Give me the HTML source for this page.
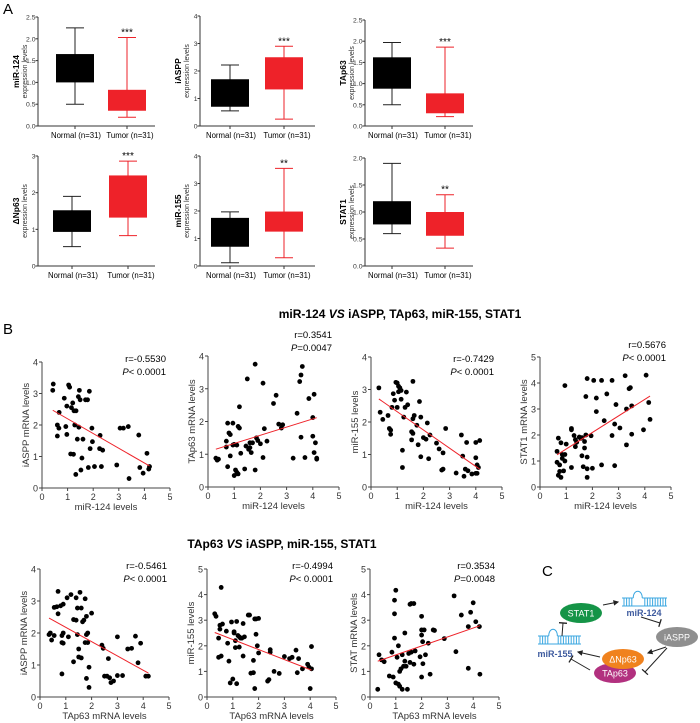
<!DOCTYPE html>
<html><head><meta charset="utf-8">
<style>
html,body{margin:0;padding:0;background:#fff;}
svg{display:block;font-family:"Liberation Sans",Arial,sans-serif;}
</style></head>
<body>
<svg id="fig" width="700" height="723" viewBox="0 0 700 723" xmlns="http://www.w3.org/2000/svg">
<text x="3" y="14" font-size="15">A</text>
<text x="3" y="334" font-size="15">B</text>
<text x="542" y="576" font-size="15">C</text>
<text x="400" y="318" font-size="12" font-weight="bold" text-anchor="middle">miR-124 <tspan font-style="italic">VS</tspan> iASPP, TAp63, miR-155, STAT1</text>
<text x="282" y="548" font-size="12" font-weight="bold" text-anchor="middle">TAp63 <tspan font-style="italic">VS</tspan> iASPP, miR-155, STAT1</text>
<g id="boxes"></g>
<g id="scatters"></g>
<g id="diagram"></g>
</svg>
<script>
// ---- Box plot data: [whiskerMin, q1, q3, whiskerMax] ----
const boxGenes = ["miR-124","iASPP","TAp63","ΔNp63","miR-155","STAT1"];
const boxYMax = [2.5, 4, 2.5, 3, 4, 2.0];
const boxYStep = [0.5, 1, 0.5, 1, 1, 0.5];
const boxDecimals = [1,0,1,0,0,1];
const normalStats = [[0.5,1.0,1.65,2.25],[0.55,0.7,1.7,2.22],[0.5,0.88,1.62,1.97],[0.53,0.93,1.52,1.9],[0.12,0.7,1.75,1.97],[0.6,0.77,1.2,1.9]];
const tumorStats = [[0.2,0.35,0.83,2.03],[0.25,1.33,2.5,2.9],[0.22,0.3,0.77,1.86],[0.83,1.32,2.47,2.86],[0.3,1.25,1.98,3.55],[0.33,0.56,1.0,1.32]];
const boxStars = ["***","***","***","***","**","**"];
const boxCategories = ["Normal (n=31)","Tumor (n=31)"];

// ---- Scatter data ----
const b1x=[0.42,0.44,0.6,0.6,0.66,0.67,0.87,0.93,0.97,0.97,1.04,1.08,1.12,1.15,1.2,1.23,1.25,1.28,1.32,1.33,1.38,1.42,1.44,1.46,1.49,1.52,1.56,1.6,1.7,1.78,1.85,1.81,1.88,1.95,1.97,2.05,2.25,2.27,2.32,2.37,2.92,3.05,3.18,3.37,3.4,3.78,3.82,3.95,4.1,4.17,4.2];
const b1y=[3.1,3.3,2.0,1.65,1.9,2.4,2.85,1.95,1.7,2.6,3.27,3.2,1.08,2.55,2.7,1.07,2.45,2.0,0.43,2.45,1.55,2.9,1.93,3.1,2.8,0.57,0.95,1.55,2.8,2.8,3.07,0.65,1.25,1.9,1.47,0.68,1.25,1.67,0.68,1.2,0.73,1.9,1.9,1.95,0.3,1.68,0.65,0.47,1.1,0.6,0.68];
const b2x=[0.3,0.35,0.4,0.7,0.7,0.75,0.75,0.8,0.85,0.85,0.95,0.95,1.0,1.0,1.05,1.1,1.1,1.15,1.15,1.2,1.2,1.25,1.4,1.45,1.5,1.55,1.6,1.6,1.65,1.7,1.8,1.8,1.85,1.9,2.0,2.1,2.1,2.15,2.25,2.5,2.6,2.7,2.8,2.85,3.25,3.4,3.5,3.55,3.6,3.55,3.7,3.85,4.0,4.0,4.05,4.05,4.1,4.15,4.15];
const b2y=[0.88,0.82,0.85,1.4,1.22,1.95,0.62,1.65,1.6,0.95,1.95,1.28,0.35,1.3,0.52,0.45,1.28,0.4,1.85,2.45,1.8,1.03,0.55,1.25,3.3,1.15,1.35,1.2,1.05,1.35,3.75,0.52,1.5,1.42,1.32,3.17,0.9,1.78,1.4,2.55,2.8,1.92,1.8,1.9,0.88,2.25,3.22,3.42,3.68,1.52,0.9,2.7,2.12,1.55,2.83,1.05,1.35,0.88,0.85];
const b3x=[0.3,0.35,0.45,0.65,0.7,0.75,0.75,0.8,0.85,0.9,0.95,1.0,1.0,1.05,1.05,1.1,1.15,1.15,1.2,1.2,1.25,1.3,1.35,1.4,1.55,1.55,1.6,1.6,1.6,1.65,1.75,1.8,1.85,1.9,1.9,2.0,2.1,2.15,2.2,2.25,2.5,2.6,2.7,2.75,2.75,2.85,3.25,3.45,3.5,3.55,3.6,3.65,3.7,3.85,4.0,4.0,4.0,4.05,4.05,4.1,4.15];
const b3y=[3.05,2.3,2.08,2.2,1.8,1.75,1.62,2.45,2.87,2.67,3.22,2.45,3.2,3.1,2.93,3.05,2.97,2.7,1.13,0.6,2.15,2.45,2.92,2.53,1.45,1.7,1.65,3.25,2.1,2.2,1.9,1.3,2.63,0.93,2.15,1.52,1.47,1.97,0.87,1.6,1.35,1.17,0.52,1.05,0.55,1.8,0.43,1.6,0.95,0.33,0.55,1.37,0.5,0.4,0.42,0.9,1.37,0.42,0.68,0.6,1.43];
const b4x=[0.65,0.65,0.7,0.7,0.75,0.75,0.8,0.8,0.85,0.85,0.9,0.95,0.95,0.95,1.0,1.2,1.2,1.2,1.3,1.35,1.35,1.4,1.5,1.55,1.6,1.6,1.65,1.7,1.7,1.75,1.8,1.8,1.8,1.8,1.75,1.95,2.0,2.05,2.15,2.15,2.35,2.35,2.45,2.55,2.75,2.75,2.85,2.85,2.9,3.05,3.25,3.3,3.3,3.4,3.45,3.5,3.5,3.95,4.05,4.15,4.2];
const b4y=[1.37,0.95,0.45,1.88,0.85,0.6,0.37,1.7,1.1,1.25,0.62,1.0,3.9,1.25,1.65,2.25,2.2,0.75,1.98,1.55,1.82,1.72,1.92,1.87,1.9,1.2,0.78,1.75,1.5,2.0,0.7,0.37,1.15,4.17,3.48,1.97,0.72,4.1,2.9,3.42,4.1,0.85,2.55,3.58,1.98,4.1,0.82,2.42,3.17,2.27,4.28,1.62,3.0,3.78,3.82,3.12,2.03,2.2,4.3,3.25,2.6];
const c1x=[0.35,0.4,0.45,0.55,0.55,0.65,0.7,0.7,0.8,0.85,0.85,0.85,0.9,0.9,0.9,1.05,1.1,1.2,1.3,1.3,1.4,1.4,1.45,1.45,1.5,1.5,1.55,1.6,1.6,1.65,1.7,1.75,1.75,1.8,1.8,1.8,1.85,1.85,1.9,1.9,2.0,2.4,2.45,2.5,2.6,2.65,2.7,2.75,2.85,3.0,3.0,3.2,3.4,3.55,3.7,3.8,3.9,4.1,4.2];
const c1y=[1.95,2.0,1.78,1.92,2.8,2.82,3.3,2.6,2.85,0.72,1.92,1.7,2.9,1.68,2.0,3.1,1.88,3.2,2.42,1.1,3.1,2.4,2.78,1.95,1.5,1.25,3.27,1.22,2.78,2.35,2.4,3.07,1.7,0.58,2.52,1.95,1.7,2.0,0.93,0.3,2.62,1.62,1.52,0.65,0.65,1.2,0.6,0.45,0.5,1.88,0.67,0.67,1.5,1.52,1.9,1.07,1.68,0.65,0.65];
const c2x=[0.3,0.35,0.45,0.45,0.5,0.5,0.55,0.55,0.6,0.75,0.8,0.85,0.9,0.95,1.0,1.05,1.05,1.1,1.1,1.15,1.15,1.2,1.25,1.25,1.3,1.35,1.4,1.4,1.45,1.6,1.65,1.7,1.8,1.8,1.85,1.85,1.9,1.9,1.95,2.0,2.0,2.35,2.4,2.45,2.45,2.6,2.8,3.0,3.2,3.3,3.45,3.5,3.55,3.7,3.9,3.95,4.0,4.05,4.05];
const c2y=[3.25,3.15,1.55,2.3,2.65,2.8,1.6,4.28,2.85,2.57,2.1,1.4,0.55,2.93,0.7,2.5,2.55,2.2,1.93,0.52,2.95,2.4,2.35,1.95,2.3,2.3,1.6,2.87,2.35,3.2,3.2,0.93,1.43,0.95,3.05,0.33,2.45,3.05,2.0,1.72,3.07,0.62,0.68,1.85,1.75,1.0,0.92,1.58,1.5,1.55,1.83,0.95,1.5,1.1,1.28,1.17,0.33,1.97,1.1];
const c3x=[0.3,0.35,0.45,0.55,0.75,0.85,0.9,0.95,0.95,0.95,1.0,1.0,1.05,1.1,1.1,1.15,1.15,1.2,1.25,1.25,1.3,1.35,1.35,1.4,1.45,1.5,1.55,1.55,1.6,1.6,1.7,1.7,1.75,2.0,2.05,2.1,2.15,2.0,2.0,2.04,2.26,2.45,2.5,2.88,1.94,2.0,2.33,3.26,3.54,3.33,3.81,3.9,4.0,4.1,4.24,3.81,4.26];
const c3y=[0.3,1.65,1.45,1.38,0.82,1.75,0.78,3.25,3.78,2.3,0.55,4.17,1.55,2.0,0.5,0.42,1.0,1.1,1.65,0.3,1.2,2.5,1.4,1.2,0.3,1.7,1.35,3.62,3.65,1.75,3.65,1.28,1.8,3.15,1.3,2.62,1.65,2.62,2.42,2.16,2.1,2.62,2.6,2.28,1.57,0.78,0.89,3.95,3.2,1.77,2.75,3.31,3.68,2.94,2.75,1.12,0.89];
const scatterAnnot = [["r=-0.5530","< 0.0001"],["r=0.3541","=0.0047"],["r=-0.7429","< 0.0001"],["r=0.5676","< 0.0001"],["r=-0.5461","< 0.0001"],["r=-0.4994","< 0.0001"],["r=0.3534","=0.0048"]];

const NS="http://www.w3.org/2000/svg";
function mk(tag, attrs, parent, text){
  const e=document.createElementNS(NS,tag);
  for(const k in attrs) e.setAttribute(k,attrs[k]);
  if(text!==undefined) e.textContent=text;
  parent.appendChild(e); return e;
}

// ---- Box plots ----
const boxLayout=[
 {ax:38,top:17,bot:126,cx:[75,127],end:155},
 {ax:200,top:16,bot:126,cx:[230,284],end:315},
 {ax:365,top:20,bot:126,cx:[392,445],end:473},
 {ax:38,top:156,bot:266,cx:[72,128],end:155},
 {ax:200,top:156,bot:266,cx:[230,284],end:315},
 {ax:365,top:158,bot:266,cx:[392,445],end:473}];
const bg=document.getElementById('boxes');
boxGenes.forEach((gene,i)=>{
  const L=boxLayout[i];
  const g=mk('g',{},bg);
  
  
  const ys=v=>L.bot-(v/boxYMax[i])*(L.bot-L.top);
  const axis=mk('path',{d:`M${L.ax},${L.top}V${L.bot}H${L.end}`,stroke:'#333',fill:'none','stroke-width':1},g);
   
  const nT=Math.round(boxYMax[i]/boxYStep[i]);
  for(let k=0; k<=nT; k++){
    const v=k*boxYStep[i];
    mk('line',{x1:L.ax-2.5,x2:L.ax,y1:ys(v),y2:ys(v),stroke:'#333'},g);
    const t=mk('text',{x:L.ax-2.5,y:ys(v)+2.5,'font-size':6.8,'text-anchor':'end',fill:'#333'},g,v.toFixed(boxDecimals[i]));
     
  }
  const yc=(L.top+L.bot)/2;
  const tt=mk('text',{x:0,y:0,'font-size':8.5,'font-weight':'bold','text-anchor':'middle',transform:`translate(${L.ax-19},${yc}) rotate(-90)`},g,gene);
   
  const ts=mk('text',{x:0,y:0,'font-size':7,'text-anchor':'middle',fill:'#333',transform:`translate(${L.ax-11},${yc}) rotate(-90)`},g,'expression levels');
   
  [normalStats[i],tumorStats[i]].forEach((s,j)=>{
    const cx=L.cx[j], col=j?'#ee2229':'#000', wcol=j?'#ee2229':'#222', hw=19;
    mk('line',{x1:cx,x2:cx,y1:ys(s[0]),y2:ys(s[3]),stroke:wcol,'stroke-width':1},g);
    mk('line',{x1:cx-9,x2:cx+9,y1:ys(s[0]),y2:ys(s[0]),stroke:wcol},g);
    mk('line',{x1:cx-9,x2:cx+9,y1:ys(s[3]),y2:ys(s[3]),stroke:wcol},g);
    const r=mk('rect',{x:cx-hw,y:ys(s[2]),width:2*hw,height:ys(s[1])-ys(s[2]),fill:col},g);
     
    mk('line',{x1:cx,x2:cx,y1:L.bot,y2:L.bot+3,stroke:'#333'},g);
    const xl=mk('text',{x:cx+(j?3:1),y:L.bot+12,'font-size':7.8,'text-anchor':'middle'},g,boxCategories[j]);
     
  });
  const st=mk('text',{x:L.cx[1],y:ys(tumorStats[i][3])-2,'font-size':10,'text-anchor':'middle'},g,boxStars[i]);
   
});

// ---- Scatter plots ----
const sg=document.getElementById('scatters');
const scatters=[
 {xs:b1x,ys:b1y,x0:42,x5:170,yt:362,yb:488,ymax:4,ytitle:'iASPP mRNA levels',xtitle:'miR-124 levels',ax:166,ay:362,name:'scatter-iaspp-vs-mir124'},
 {xs:b2x,ys:b2y,x0:208,x5:339,yt:356,yb:487,ymax:4,ytitle:'TAp63 mRNA levels',xtitle:'miR-124 levels',ax:332,ay:338,name:'scatter-tap63-vs-mir124'},
 {xs:b3x,ys:b3y,x0:371,x5:502,yt:357,yb:487,ymax:4,ytitle:'miR-155 levels',xtitle:'miR-124 levels',ax:494,ay:362,name:'scatter-mir155-vs-mir124'},
 {xs:b4x,ys:b4y,x0:540,x5:671,yt:357,yb:487,ymax:5,ytitle:'STAT1 mRNA levels',xtitle:'miR-124 levels',ax:666,ay:348,name:'scatter-stat1-vs-mir124'},
 {xs:c1x,ys:c1y,x0:40,x5:169,yt:569,yb:697,ymax:4,ytitle:'iASPP mRNA levels',xtitle:'TAp63 mRNA levels',ax:167,ay:569,name:'scatter-iaspp-vs-tap63'},
 {xs:c2x,ys:c2y,x0:207,x5:336,yt:569,yb:697,ymax:5,ytitle:'miR-155 levels',xtitle:'TAp63 mRNA levels',ax:333,ay:569,name:'scatter-mir155-vs-tap63'},
 {xs:c3x,ys:c3y,x0:370,x5:499,yt:569,yb:697,ymax:5,ytitle:'STAT mRNA levels',xtitle:'TAp63 mRNA levels',ax:495,ay:569,name:'scatter-stat-vs-tap63'}];
scatters.forEach((S,i)=>{
  const g=mk('g',{},sg);
  
  
  const X=v=>S.x0+v*(S.x5-S.x0)/5, Y=v=>S.yb-v*(S.yb-S.yt)/S.ymax;
  mk('path',{d:`M${S.x0},${S.yt}V${S.yb}H${S.x5}`,stroke:'#444',fill:'none'},g);
  for(let v=0;v<=5;v++){
    mk('line',{x1:X(v),x2:X(v),y1:S.yb,y2:S.yb+3,stroke:'#444'},g);
    const t=mk('text',{x:X(v),y:S.yb+12,'font-size':9,'text-anchor':'middle',fill:'#333'},g,String(v));
     
  }
  for(let v=0;v<=S.ymax;v++){
    mk('line',{x1:S.x0-3,x2:S.x0,y1:Y(v),y2:Y(v),stroke:'#444'},g);
    const t=mk('text',{x:S.x0-4,y:Y(v)+3.5,'font-size':9,'text-anchor':'end',fill:'#333'},g,String(v));
     
  }
  const yt=mk('text',{'font-size':9.5,'text-anchor':'middle',fill:'#333',transform:`translate(${S.x0-13},${(S.yt+S.yb)/2}) rotate(-90)`},g,S.ytitle);
   
  const xt=mk('text',{x:(S.x0+S.x5)/2,y:S.yb+22,'font-size':9.5,'text-anchor':'middle',fill:'#333'},g,S.xtitle);
   
  S.xs.forEach((xv,k)=>{
    const c=mk('circle',{cx:X(xv),cy:Y(S.ys[k]),r:2.4,fill:'#000'},g);
     
  });
  const n=S.xs.length; let sx=0,sy=0,sxx=0,sxy=0,mn=1e9,mx=-1e9;
  S.xs.forEach((xv,k)=>{sx+=xv;sy+=S.ys[k];sxx+=xv*xv;sxy+=xv*S.ys[k];mn=Math.min(mn,xv);mx=Math.max(mx,xv);});
  const b=(n*sxy-sx*sy)/(n*sxx-sx*sx), a=(sy-b*sx)/n;
  const ln=mk('line',{x1:X(mn),y1:Y(a+b*mn),x2:X(mx),y2:Y(a+b*mx),stroke:'#ee2229','stroke-width':1},g);
   
  const a1=mk('text',{x:S.ax,y:S.ay,'font-size':9.5,'text-anchor':'end'},g,scatterAnnot[i][0]);
   
  const a2=mk('text',{x:S.ax,y:S.ay+13,'font-size':9.5,'text-anchor':'end'},g);
   
  mk('tspan',{'font-style':'italic'},a2,'P');
  mk('tspan',{},a2,scatterAnnot[i][1]);
});

// ---- Pathway diagram ----
const dg=document.getElementById('diagram');
function hairpin(x,y,w,name){
  const g=mk('g',{stroke:'#3ba7e0',fill:'none','stroke-width':1},dg);
   
  mk('line',{x1:x,x2:x+w,y1:y,y2:y},g);
  mk('line',{x1:x,x2:x+w*0.25,y1:y-8,y2:y-8},g);
  mk('line',{x1:x+w*0.45,x2:x+w,y1:y-8,y2:y-8},g);
  mk('path',{d:`M${x+w*0.25},${y-8} C${x+w*0.25},${y-17} ${x+w*0.45},${y-17} ${x+w*0.45},${y-8}`},g);
  for(let t=x+2;t<=x+w-1;t+=2.6){ if(t>x+w*0.25 && t<x+w*0.45) continue; mk('line',{x1:t,x2:t,y1:y,y2:y-8},g); }
}
hairpin(622,606,45,'mir-124-hairpin');
hairpin(538,644,43,'mir-155-hairpin');
function ell(cx,cy,col,label,name){
  const e=mk('ellipse',{cx,cy,rx:21,ry:10,fill:col},dg);
   
  const t=mk('text',{x:cx,y:cy+3.5,'font-size':9,fill:'#fff','text-anchor':'middle'},dg,label);
   
}
ell(581,613,'#159447','STAT1','stat1-node');
ell(677,637,'#8f8f8f','iASPP','iaspp-node');
ell(615,673,'#b2307f','TAp63','tap63-node');
ell(623,659,'#f0821e','ΔNp63','deltanp63-node');
const l1=mk('text',{x:644,y:616,'font-size':9,'font-weight':'bold',fill:'#3d5a9e','text-anchor':'middle'},dg,'miR-124');
 
const l2=mk('text',{x:555,y:657,'font-size':9,'font-weight':'bold',fill:'#3d5a9e','text-anchor':'middle'},dg,'miR-155');
 
function arrow(x1,y1,x2,y2,inhib){
  const g=mk('g',{stroke:'#222','stroke-width':1,fill:'#222'},dg);
   
  mk('line',{x1,y1,x2,y2},g);
  const dx=x2-x1,dy=y2-y1,L=Math.hypot(dx,dy),ux=dx/L,uy=dy/L;
  if(inhib){ mk('line',{x1:x2-uy*4,y1:y2+ux*4,x2:x2+uy*4,y2:y2-ux*4,'stroke-width':1.3},g); }
  else { mk('path',{d:`M${x2},${y2}L${x2-ux*4-uy*2},${y2-uy*4+ux*2}L${x2-ux*4+uy*2},${y2-uy*4-ux*2}Z`},g); }
}
arrow(603,605,618,602,false);
arrow(641,617,660,623,true);
arrow(666,647,648,653,false);
arrow(667,648,645,672,true);
arrow(600,657,578,652,false);
arrow(590,670,571,659,true);
arrow(562,636,563,623,true);
</script>
</body></html>
